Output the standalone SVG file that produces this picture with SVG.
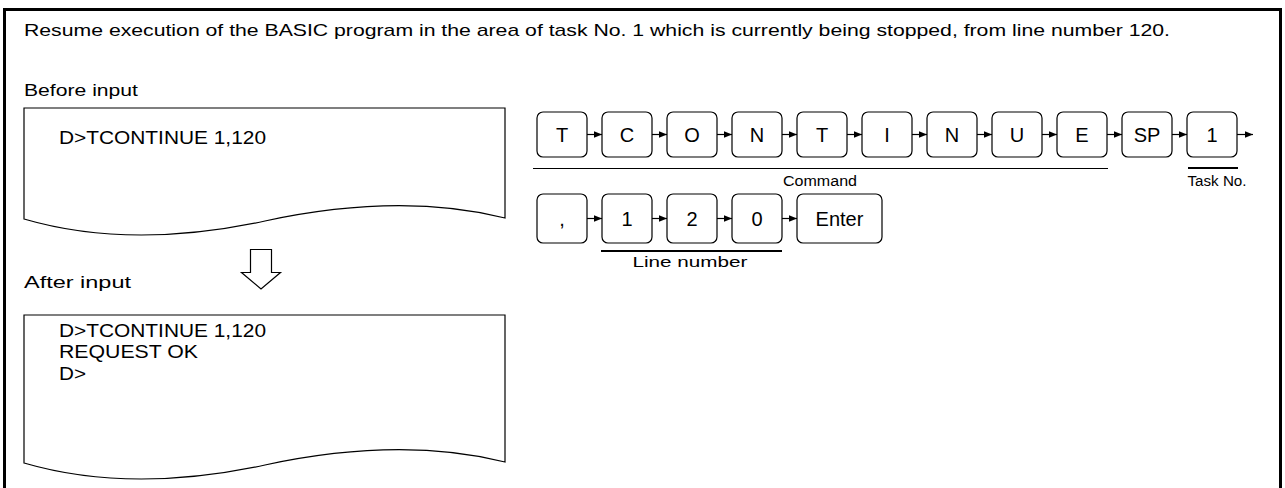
<svg xmlns="http://www.w3.org/2000/svg" width="1285" height="488" viewBox="0 0 1285 488">
<style>
text{font-family:"Liberation Sans",Arial,sans-serif;fill:#000}
.lbl{font-size:17px}
.mono{font-size:19px}
.key{fill:#fff;stroke:#000;stroke-width:1.2}
.kt{font-size:20px;text-anchor:middle}
.sm{font-size:14px;text-anchor:middle}
.ln{stroke:#000;fill:none}
.paper{fill:#fff;stroke:#000;stroke-width:1.2}
</style>
<defs>
<marker id="ah" viewBox="0 0 8 8" refX="8" refY="4" markerWidth="8" markerHeight="8" markerUnits="userSpaceOnUse" orient="auto">
<path d="M0,0.8 L8,4 L0,7.2 Z" fill="#000"/>
</marker>
</defs>
<rect width="1285" height="488" fill="#fff"/>
<path d="M4.5,488 V9.5 H1280.5 V488" fill="none" stroke="#000" stroke-width="3"/>
<text class="lbl" x="24" y="36" textLength="1146" lengthAdjust="spacingAndGlyphs">Resume execution of the BASIC program in the area of task No. 1 which is currently being stopped, from line number 120.</text>
<text class="lbl" x="24" y="96" textLength="114" lengthAdjust="spacingAndGlyphs">Before input</text>
<text class="lbl" x="24" y="288" textLength="107" lengthAdjust="spacingAndGlyphs">After input</text>
<g id="before">
<path class="paper" d="M24,108 H505 V218 Q400,192 265,221 Q130,250 24,219 Z"/>
<text class="mono" x="59" y="144" textLength="207" lengthAdjust="spacingAndGlyphs">D&gt;TCONTINUE 1,120</text>
</g>
<g id="after">
<path class="paper" d="M24,315 H505 V462 Q400,436 265,465 Q130,494 24,463 Z"/>
<text class="mono" x="59" y="337" textLength="207" lengthAdjust="spacingAndGlyphs">D&gt;TCONTINUE 1,120</text>
<text class="mono" x="59" y="358" textLength="139" lengthAdjust="spacingAndGlyphs">REQUEST OK</text>
<text class="mono" x="59" y="380" textLength="27" lengthAdjust="spacingAndGlyphs">D&gt;</text>
</g>
<g id="down-arrow">
<path d="M250.5,249.5 H271.5 V272.5 H280.5 L261,289 L241.5,272.5 H250.5 Z" fill="#fff" stroke="#000" stroke-width="1.2"/>
</g>
<g id="k-T1"><rect class="key" x="537" y="112" width="50" height="45" rx="6"/><text class="kt" x="562" y="142">T</text></g>
<g id="k-C"><rect class="key" x="602" y="112" width="50" height="45" rx="6"/><text class="kt" x="627" y="142">C</text></g>
<g id="k-O"><rect class="key" x="667" y="112" width="50" height="45" rx="6"/><text class="kt" x="692" y="142">O</text></g>
<g id="k-N1"><rect class="key" x="732" y="112" width="50" height="45" rx="6"/><text class="kt" x="757" y="142">N</text></g>
<g id="k-T2"><rect class="key" x="797" y="112" width="50" height="45" rx="6"/><text class="kt" x="822" y="142">T</text></g>
<g id="k-I"><rect class="key" x="862" y="112" width="50" height="45" rx="6"/><text class="kt" x="887" y="142">I</text></g>
<g id="k-N2"><rect class="key" x="927" y="112" width="50" height="45" rx="6"/><text class="kt" x="952" y="142">N</text></g>
<g id="k-U"><rect class="key" x="992" y="112" width="50" height="45" rx="6"/><text class="kt" x="1017" y="142">U</text></g>
<g id="k-E"><rect class="key" x="1057" y="112" width="50" height="45" rx="6"/><text class="kt" x="1082" y="142">E</text></g>
<g id="k-SP"><rect class="key" x="1122" y="112" width="50" height="45" rx="6"/><text class="kt" x="1147" y="142">SP</text></g>
<g id="k-task1"><rect class="key" x="1187" y="112" width="50" height="45" rx="6"/><text class="kt" x="1212" y="142">1</text></g>
<g id="k-comma"><rect class="key" x="537" y="194" width="50" height="49" rx="6"/><text class="kt" x="562" y="226">,</text></g>
<g id="k-1"><rect class="key" x="602" y="194" width="50" height="49" rx="6"/><text class="kt" x="627" y="226">1</text></g>
<g id="k-2"><rect class="key" x="667" y="194" width="50" height="49" rx="6"/><text class="kt" x="692" y="226">2</text></g>
<g id="k-0"><rect class="key" x="732" y="194" width="50" height="49" rx="6"/><text class="kt" x="757" y="226">0</text></g>
<g id="k-Enter"><rect class="key" x="797" y="194" width="85" height="49" rx="6"/><text class="kt" x="839.5" y="226">Enter</text></g>
<g id="connectors" stroke="#000" stroke-width="1.2" fill="none">
<line x1="587" y1="134.5" x2="602" y2="134.5" marker-end="url(#ah)"/>
<line x1="652" y1="134.5" x2="667" y2="134.5" marker-end="url(#ah)"/>
<line x1="717" y1="134.5" x2="732" y2="134.5" marker-end="url(#ah)"/>
<line x1="782" y1="134.5" x2="797" y2="134.5" marker-end="url(#ah)"/>
<line x1="847" y1="134.5" x2="862" y2="134.5" marker-end="url(#ah)"/>
<line x1="912" y1="134.5" x2="927" y2="134.5" marker-end="url(#ah)"/>
<line x1="977" y1="134.5" x2="992" y2="134.5" marker-end="url(#ah)"/>
<line x1="1042" y1="134.5" x2="1057" y2="134.5" marker-end="url(#ah)"/>
<line x1="1107" y1="134.5" x2="1122" y2="134.5" marker-end="url(#ah)"/>
<line x1="1172" y1="134.5" x2="1187" y2="134.5" marker-end="url(#ah)"/>
<line x1="1237" y1="134.5" x2="1253" y2="134.5" marker-end="url(#ah)"/>
<line x1="587" y1="218.5" x2="602" y2="218.5" marker-end="url(#ah)"/>
<line x1="652" y1="218.5" x2="667" y2="218.5" marker-end="url(#ah)"/>
<line x1="717" y1="218.5" x2="732" y2="218.5" marker-end="url(#ah)"/>
<line x1="782" y1="218.5" x2="797" y2="218.5" marker-end="url(#ah)"/>
</g>
<g id="brackets">
<line class="ln" x1="533" y1="168.5" x2="1108" y2="168.5" stroke-width="1.2"/>
<text class="sm" x="820" y="186" textLength="74" lengthAdjust="spacingAndGlyphs">Command</text>
<line class="ln" x1="1188" y1="168" x2="1238" y2="168" stroke-width="2"/>
<text class="sm" x="1217" y="186" textLength="59" lengthAdjust="spacingAndGlyphs">Task No.</text>
<line class="ln" x1="601" y1="251" x2="782" y2="251" stroke-width="2"/>
<text class="sm" x="690" y="267" textLength="115" lengthAdjust="spacingAndGlyphs">Line number</text>
</g>
</svg>
